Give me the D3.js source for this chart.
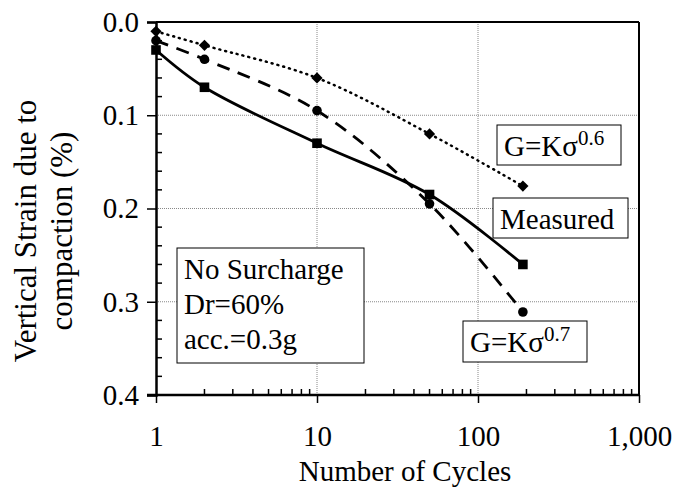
<!DOCTYPE html>
<html><head><meta charset="utf-8">
<script src="https://cdn.jsdelivr.net/npm/d3@7"></script>
<style>body{margin:0;background:#fff}svg{display:block}svg text{font-family:"Liberation Serif","Times New Roman",serif !important;fill:#000}</style>
</head><body><svg id="c" width="675" height="492"></svg>
<script>
const cycles = [1, 2, 10, 50, 190];
const measured = [0.03, 0.07, 0.13, 0.185, 0.26];
const g07 = [0.02, 0.04, 0.095, 0.195, 0.311];
const g06 = [0.01, 0.025, 0.06, 0.12, 0.176];
const yTicks = [0.0, 0.1, 0.2, 0.3, 0.4];
const xTicks = [1, 10, 100, 1000];

const SERIF = '"Liberation Serif","Times New Roman",serif';
const svg = d3.select("#c");
const x = d3.scaleLog().domain([1, 1000]).range([156, 639]);
const y = d3.scaleLinear().domain([0, 0.4]).range([22, 395]);
const FS = 29;

// gridlines
const grid = svg.append("g").attr("stroke", "#888").attr("stroke-width", 1).attr("stroke-dasharray", "1,1");
[0.1, 0.2, 0.3].forEach(v => grid.append("line").attr("x1", x(1)).attr("x2", x(1000)).attr("y1", y(v)).attr("y2", y(v)));
[10, 100].forEach(v => grid.append("line").attr("x1", x(v)).attr("x2", x(v)).attr("y1", y(0)).attr("y2", y(0.4)));

// frame top/right
svg.append("line").attr("x1", x(1)).attr("x2", x(1000)).attr("y1", y(0)).attr("y2", y(0)).attr("stroke", "#000").attr("stroke-width", 2);
svg.append("line").attr("x1", x(1000)).attr("x2", x(1000)).attr("y1", y(0)).attr("y2", y(0.4)).attr("stroke", "#000").attr("stroke-width", 2);

// Y axis
const yAxis = d3.axisLeft(y).tickValues(yTicks).tickFormat(d3.format(".1f")).tickSize(9).tickPadding(8);
const gy = svg.append("g").attr("transform", `translate(${x(1)},0)`).call(yAxis).attr("font-family", SERIF).attr("font-size", FS);
gy.select(".domain").attr("stroke-width", 2.5);
gy.selectAll(".tick line").attr("stroke-width", 1.5);
const yMinor = d3.range(0.02, 0.4, 0.02).filter(v => Math.abs(v * 10 - Math.round(v * 10)) > 1e-6);
svg.append("g").selectAll("line").data(yMinor).join("line")
  .attr("x1", x(1)).attr("x2", x(1) + 6).attr("y1", d => y(d)).attr("y2", d => y(d)).attr("stroke", "#000").attr("stroke-width", 1.5);

// X axis
const xAxis = d3.axisBottom(x).tickValues(xTicks).tickFormat(d3.format(",")).tickSize(8).tickPadding(22);
const gx = svg.append("g").attr("transform", `translate(0,${y(0.4)})`).call(xAxis).attr("font-family", SERIF).attr("font-size", FS);
gx.select(".domain").attr("stroke-width", 2.5).attr("d", `M${x(1) - 9},0H${x(1000)}`);
gx.selectAll(".tick line").attr("stroke-width", 1.5);
const xMinor = [];
[1, 10, 100].forEach(b => { for (let k = 2; k <= 9; k++) xMinor.push(b * k); });
svg.append("g").selectAll("line").data(xMinor).join("line")
  .attr("x1", d => x(d)).attr("x2", d => x(d)).attr("y1", y(0.4)).attr("y2", y(0.4) - 6).attr("stroke", "#000").attr("stroke-width", 1.5);

// axis titles
svg.append("text").attr("x", 405).attr("y", 481).attr("text-anchor", "middle").attr("font-size", FS).text("Number of Cycles");
const yt = svg.append("text").attr("transform", `translate(0,231) rotate(-90)`).attr("text-anchor", "middle").attr("font-size", 31);
yt.append("tspan").attr("x", 0).attr("y", 36).text("Vertical Strain due to");
yt.append("tspan").attr("x", 0).attr("y", 72).text("compaction (%)");

// series
const curve = d3.curveCatmullRom.alpha(0.5);
function series(vals, dash, width) {
  const data = cycles.map((c, i) => [c, vals[i]]);
  svg.append("path").datum(data).attr("fill", "none").attr("stroke", "#000").attr("stroke-width", width)
    .attr("stroke-dasharray", dash).attr("stroke-linecap", dash === "1,5" ? "round" : "butt")
    .attr("d", d3.line().x(d => x(d[0])).y(d => y(d[1])).curve(curve));
  return data;
}
const dG06 = series(g06, "1,5", 2.5);
const dG07 = series(g07, "13,9", 2.8);
const dM = series(measured, null, 2.8);

svg.append("g").selectAll("path").data(dG06).join("path")
  .attr("transform", d => `translate(${x(d[0])},${y(d[1])})`).attr("d", d3.symbol(d3.symbolDiamond2, 80)()).attr("fill", "#000");
svg.append("g").selectAll("circle").data(dG07).join("circle")
  .attr("cx", d => x(d[0])).attr("cy", d => y(d[1])).attr("r", 4.8).attr("fill", "#000");
svg.append("g").selectAll("rect").data(dM).join("rect")
  .attr("x", d => x(d[0]) - 4.8).attr("y", d => y(d[1]) - 4.8).attr("width", 9.6).attr("height", 9.6).attr("fill", "#000");

// annotation boxes
function box(x0, y0, w, h, lines, sup) {
  svg.append("rect").attr("x", x0).attr("y", y0).attr("width", w).attr("height", h).attr("fill", "#fff").attr("stroke", "#000").attr("stroke-width", 1);
  lines.forEach((l, i) => {
    const t = svg.append("text").attr("x", x0 + 7).attr("y", y0 + 31 + i * 35).attr("font-size", FS);
    t.append("tspan").text(l);
    if (sup) t.append("tspan").attr("dy", -11).attr("font-size", 21).text(sup);
  });
}
box(497, 125, 124, 40, ["G=K\u03c3"], "0.6");
box(493, 198, 135, 40, ["Measured"], null);
box(463, 321, 124, 41, ["G=K\u03c3"], "0.7");
box(177, 248, 187, 115, ["No Surcharge", "Dr=60%", "acc.=0.3g"], null);
</script></body></html>
